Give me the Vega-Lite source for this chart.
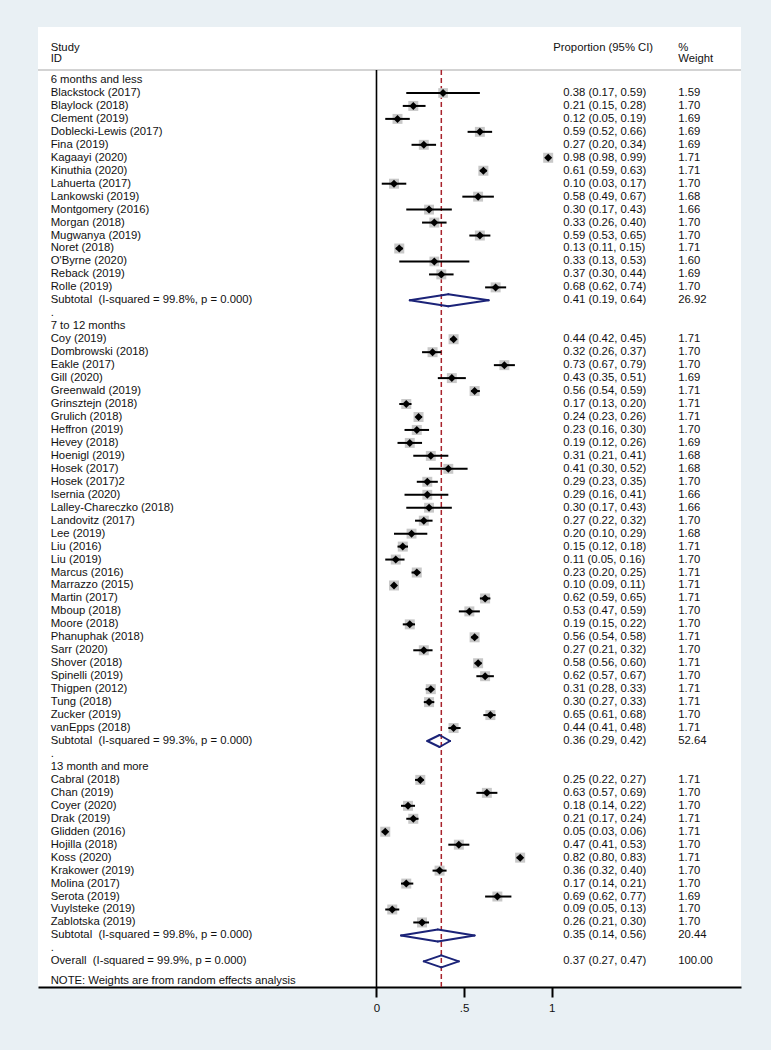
{
  "$schema": "https://vega.github.io/schema/vega-lite/v6.json",
  "width": 703,
  "height": 960,
  "autosize": {"type": "none"},
  "padding": {"left": 38, "top": 27, "right": 30, "bottom": 63},
  "background": "#e9f0f4",
  "view": {"fill": "white", "stroke": null},
  "config": {
    "font": "Liberation Sans",
    "text": {"font": "Liberation Sans", "fontSize": 11.3, "color": "#111111", "align": "left", "baseline": "middle"},
    "axisX": {
      "domainColor": "#000000", "domainWidth": 2, "tickColor": "#000000", "tickWidth": 2, "tickSize": 10,
      "labelFont": "Liberation Sans", "labelFontSize": 11.5, "labelColor": "#111111", "labelPadding": 5,
      "grid": false, "title": null
    }
  },
  "data": {
    "values": [
      {"r": 1, "k": "g", "label": "6 months and less"},
      {"r": 2, "k": "s", "label": "Blackstock (2017)", "est": 0.38, "lo": 0.17, "hi": 0.59, "w": 1.59, "ci": "0.38 (0.17, 0.59)"},
      {"r": 3, "k": "s", "label": "Blaylock (2018)", "est": 0.21, "lo": 0.15, "hi": 0.28, "w": 1.70, "ci": "0.21 (0.15, 0.28)"},
      {"r": 4, "k": "s", "label": "Clement (2019)", "est": 0.12, "lo": 0.05, "hi": 0.19, "w": 1.69, "ci": "0.12 (0.05, 0.19)"},
      {"r": 5, "k": "s", "label": "Doblecki-Lewis (2017)", "est": 0.59, "lo": 0.52, "hi": 0.66, "w": 1.69, "ci": "0.59 (0.52, 0.66)"},
      {"r": 6, "k": "s", "label": "Fina (2019)", "est": 0.27, "lo": 0.20, "hi": 0.34, "w": 1.69, "ci": "0.27 (0.20, 0.34)"},
      {"r": 7, "k": "s", "label": "Kagaayi (2020)", "est": 0.98, "lo": 0.98, "hi": 0.99, "w": 1.71, "ci": "0.98 (0.98, 0.99)"},
      {"r": 8, "k": "s", "label": "Kinuthia (2020)", "est": 0.61, "lo": 0.59, "hi": 0.63, "w": 1.71, "ci": "0.61 (0.59, 0.63)"},
      {"r": 9, "k": "s", "label": "Lahuerta (2017)", "est": 0.10, "lo": 0.03, "hi": 0.17, "w": 1.70, "ci": "0.10 (0.03, 0.17)"},
      {"r": 10, "k": "s", "label": "Lankowski (2019)", "est": 0.58, "lo": 0.49, "hi": 0.67, "w": 1.68, "ci": "0.58 (0.49, 0.67)"},
      {"r": 11, "k": "s", "label": "Montgomery (2016)", "est": 0.30, "lo": 0.17, "hi": 0.43, "w": 1.66, "ci": "0.30 (0.17, 0.43)"},
      {"r": 12, "k": "s", "label": "Morgan (2018)", "est": 0.33, "lo": 0.26, "hi": 0.40, "w": 1.70, "ci": "0.33 (0.26, 0.40)"},
      {"r": 13, "k": "s", "label": "Mugwanya (2019)", "est": 0.59, "lo": 0.53, "hi": 0.65, "w": 1.70, "ci": "0.59 (0.53, 0.65)"},
      {"r": 14, "k": "s", "label": "Noret (2018)", "est": 0.13, "lo": 0.11, "hi": 0.15, "w": 1.71, "ci": "0.13 (0.11, 0.15)"},
      {"r": 15, "k": "s", "label": "O'Byrne (2020)", "est": 0.33, "lo": 0.13, "hi": 0.53, "w": 1.60, "ci": "0.33 (0.13, 0.53)"},
      {"r": 16, "k": "s", "label": "Reback (2019)", "est": 0.37, "lo": 0.30, "hi": 0.44, "w": 1.69, "ci": "0.37 (0.30, 0.44)"},
      {"r": 17, "k": "s", "label": "Rolle (2019)", "est": 0.68, "lo": 0.62, "hi": 0.74, "w": 1.70, "ci": "0.68 (0.62, 0.74)"},
      {"r": 18, "k": "t", "label": "Subtotal \u00a0(I-squared = 99.8%, p = 0.000)", "est": 0.41, "lo": 0.19, "hi": 0.64, "w": 26.92, "ci": "0.41 (0.19, 0.64)"},
      {"r": 19, "k": "d", "label": "."},
      {"r": 20, "k": "g", "label": "7 to 12 months"},
      {"r": 21, "k": "s", "label": "Coy (2019)", "est": 0.44, "lo": 0.42, "hi": 0.45, "w": 1.71, "ci": "0.44 (0.42, 0.45)"},
      {"r": 22, "k": "s", "label": "Dombrowski (2018)", "est": 0.32, "lo": 0.26, "hi": 0.37, "w": 1.70, "ci": "0.32 (0.26, 0.37)"},
      {"r": 23, "k": "s", "label": "Eakle (2017)", "est": 0.73, "lo": 0.67, "hi": 0.79, "w": 1.70, "ci": "0.73 (0.67, 0.79)"},
      {"r": 24, "k": "s", "label": "Gill (2020)", "est": 0.43, "lo": 0.35, "hi": 0.51, "w": 1.69, "ci": "0.43 (0.35, 0.51)"},
      {"r": 25, "k": "s", "label": "Greenwald (2019)", "est": 0.56, "lo": 0.54, "hi": 0.59, "w": 1.71, "ci": "0.56 (0.54, 0.59)"},
      {"r": 26, "k": "s", "label": "Grinsztejn (2018)", "est": 0.17, "lo": 0.13, "hi": 0.20, "w": 1.71, "ci": "0.17 (0.13, 0.20)"},
      {"r": 27, "k": "s", "label": "Grulich (2018)", "est": 0.24, "lo": 0.23, "hi": 0.26, "w": 1.71, "ci": "0.24 (0.23, 0.26)"},
      {"r": 28, "k": "s", "label": "Heffron (2019)", "est": 0.23, "lo": 0.16, "hi": 0.30, "w": 1.70, "ci": "0.23 (0.16, 0.30)"},
      {"r": 29, "k": "s", "label": "Hevey (2018)", "est": 0.19, "lo": 0.12, "hi": 0.26, "w": 1.69, "ci": "0.19 (0.12, 0.26)"},
      {"r": 30, "k": "s", "label": "Hoenigl (2019)", "est": 0.31, "lo": 0.21, "hi": 0.41, "w": 1.68, "ci": "0.31 (0.21, 0.41)"},
      {"r": 31, "k": "s", "label": "Hosek (2017)", "est": 0.41, "lo": 0.30, "hi": 0.52, "w": 1.68, "ci": "0.41 (0.30, 0.52)"},
      {"r": 32, "k": "s", "label": "Hosek (2017)2", "est": 0.29, "lo": 0.23, "hi": 0.35, "w": 1.70, "ci": "0.29 (0.23, 0.35)"},
      {"r": 33, "k": "s", "label": "Isernia (2020)", "est": 0.29, "lo": 0.16, "hi": 0.41, "w": 1.66, "ci": "0.29 (0.16, 0.41)"},
      {"r": 34, "k": "s", "label": "Lalley-Chareczko (2018)", "est": 0.30, "lo": 0.17, "hi": 0.43, "w": 1.66, "ci": "0.30 (0.17, 0.43)"},
      {"r": 35, "k": "s", "label": "Landovitz (2017)", "est": 0.27, "lo": 0.22, "hi": 0.32, "w": 1.70, "ci": "0.27 (0.22, 0.32)"},
      {"r": 36, "k": "s", "label": "Lee (2019)", "est": 0.20, "lo": 0.10, "hi": 0.29, "w": 1.68, "ci": "0.20 (0.10, 0.29)"},
      {"r": 37, "k": "s", "label": "Liu (2016)", "est": 0.15, "lo": 0.12, "hi": 0.18, "w": 1.71, "ci": "0.15 (0.12, 0.18)"},
      {"r": 38, "k": "s", "label": "Liu (2019)", "est": 0.11, "lo": 0.05, "hi": 0.16, "w": 1.70, "ci": "0.11 (0.05, 0.16)"},
      {"r": 39, "k": "s", "label": "Marcus (2016)", "est": 0.23, "lo": 0.20, "hi": 0.25, "w": 1.71, "ci": "0.23 (0.20, 0.25)"},
      {"r": 40, "k": "s", "label": "Marrazzo (2015)", "est": 0.10, "lo": 0.09, "hi": 0.11, "w": 1.71, "ci": "0.10 (0.09, 0.11)"},
      {"r": 41, "k": "s", "label": "Martin (2017)", "est": 0.62, "lo": 0.59, "hi": 0.65, "w": 1.71, "ci": "0.62 (0.59, 0.65)"},
      {"r": 42, "k": "s", "label": "Mboup (2018)", "est": 0.53, "lo": 0.47, "hi": 0.59, "w": 1.70, "ci": "0.53 (0.47, 0.59)"},
      {"r": 43, "k": "s", "label": "Moore (2018)", "est": 0.19, "lo": 0.15, "hi": 0.22, "w": 1.70, "ci": "0.19 (0.15, 0.22)"},
      {"r": 44, "k": "s", "label": "Phanuphak (2018)", "est": 0.56, "lo": 0.54, "hi": 0.58, "w": 1.71, "ci": "0.56 (0.54, 0.58)"},
      {"r": 45, "k": "s", "label": "Sarr (2020)", "est": 0.27, "lo": 0.21, "hi": 0.32, "w": 1.70, "ci": "0.27 (0.21, 0.32)"},
      {"r": 46, "k": "s", "label": "Shover (2018)", "est": 0.58, "lo": 0.56, "hi": 0.60, "w": 1.71, "ci": "0.58 (0.56, 0.60)"},
      {"r": 47, "k": "s", "label": "Spinelli (2019)", "est": 0.62, "lo": 0.57, "hi": 0.67, "w": 1.70, "ci": "0.62 (0.57, 0.67)"},
      {"r": 48, "k": "s", "label": "Thigpen (2012)", "est": 0.31, "lo": 0.28, "hi": 0.33, "w": 1.71, "ci": "0.31 (0.28, 0.33)"},
      {"r": 49, "k": "s", "label": "Tung (2018)", "est": 0.30, "lo": 0.27, "hi": 0.33, "w": 1.71, "ci": "0.30 (0.27, 0.33)"},
      {"r": 50, "k": "s", "label": "Zucker (2019)", "est": 0.65, "lo": 0.61, "hi": 0.68, "w": 1.70, "ci": "0.65 (0.61, 0.68)"},
      {"r": 51, "k": "s", "label": "vanEpps (2018)", "est": 0.44, "lo": 0.41, "hi": 0.48, "w": 1.71, "ci": "0.44 (0.41, 0.48)"},
      {"r": 52, "k": "t", "label": "Subtotal \u00a0(I-squared = 99.3%, p = 0.000)", "est": 0.36, "lo": 0.29, "hi": 0.42, "w": 52.64, "ci": "0.36 (0.29, 0.42)"},
      {"r": 53, "k": "d", "label": "."},
      {"r": 54, "k": "g", "label": "13 month and more"},
      {"r": 55, "k": "s", "label": "Cabral (2018)", "est": 0.25, "lo": 0.22, "hi": 0.27, "w": 1.71, "ci": "0.25 (0.22, 0.27)"},
      {"r": 56, "k": "s", "label": "Chan (2019)", "est": 0.63, "lo": 0.57, "hi": 0.69, "w": 1.70, "ci": "0.63 (0.57, 0.69)"},
      {"r": 57, "k": "s", "label": "Coyer (2020)", "est": 0.18, "lo": 0.14, "hi": 0.22, "w": 1.70, "ci": "0.18 (0.14, 0.22)"},
      {"r": 58, "k": "s", "label": "Drak (2019)", "est": 0.21, "lo": 0.17, "hi": 0.24, "w": 1.71, "ci": "0.21 (0.17, 0.24)"},
      {"r": 59, "k": "s", "label": "Glidden (2016)", "est": 0.05, "lo": 0.03, "hi": 0.06, "w": 1.71, "ci": "0.05 (0.03, 0.06)"},
      {"r": 60, "k": "s", "label": "Hojilla (2018)", "est": 0.47, "lo": 0.41, "hi": 0.53, "w": 1.70, "ci": "0.47 (0.41, 0.53)"},
      {"r": 61, "k": "s", "label": "Koss (2020)", "est": 0.82, "lo": 0.80, "hi": 0.83, "w": 1.71, "ci": "0.82 (0.80, 0.83)"},
      {"r": 62, "k": "s", "label": "Krakower (2019)", "est": 0.36, "lo": 0.32, "hi": 0.40, "w": 1.70, "ci": "0.36 (0.32, 0.40)"},
      {"r": 63, "k": "s", "label": "Molina (2017)", "est": 0.17, "lo": 0.14, "hi": 0.21, "w": 1.70, "ci": "0.17 (0.14, 0.21)"},
      {"r": 64, "k": "s", "label": "Serota (2019)", "est": 0.69, "lo": 0.62, "hi": 0.77, "w": 1.69, "ci": "0.69 (0.62, 0.77)"},
      {"r": 65, "k": "s", "label": "Vuylsteke (2019)", "est": 0.09, "lo": 0.05, "hi": 0.13, "w": 1.70, "ci": "0.09 (0.05, 0.13)"},
      {"r": 66, "k": "s", "label": "Zablotska (2019)", "est": 0.26, "lo": 0.21, "hi": 0.30, "w": 1.70, "ci": "0.26 (0.21, 0.30)"},
      {"r": 67, "k": "t", "label": "Subtotal \u00a0(I-squared = 99.8%, p = 0.000)", "est": 0.35, "lo": 0.14, "hi": 0.56, "w": 20.44, "ci": "0.35 (0.14, 0.56)"},
      {"r": 68, "k": "d", "label": "."},
      {"r": 69, "k": "o", "label": "Overall \u00a0(I-squared = 99.9%, p = 0.000)", "est": 0.37, "lo": 0.27, "hi": 0.47, "w": 100.00, "ci": "0.37 (0.27, 0.47)"}
    ]
  },
  "encoding": {
    "y": {"field": "r", "type": "quantitative", "scale": {"domain": [-3.09, 70.98], "reverse": true, "nice": false, "zero": false}, "axis": null}
  },
  "layer": [
    {
      "transform": [{"filter": "datum.r == 1"}],
      "mark": {"type": "rule", "color": "#c4c4c4", "strokeWidth": 1.5},
      "encoding": {
        "x": {"datum": -1.932, "type": "quantitative", "scale": {"domain": [-1.932, 2.0805], "nice": false, "zero": false}, "axis": {"values": [0, 0.5, 1], "labelExpr": "datum.value == 0.5 ? '.5' : format(datum.value, 'd')", "title": null}},
        "x2": {"datum": 2.0805},
        "y": {"datum": 0.228, "type": "quantitative"}
      }
    },
    {
      "transform": [{"filter": "datum.r == 1"}],
      "mark": {"type": "rule", "color": "#000000", "strokeWidth": 1.6},
      "encoding": {
        "x": {"datum": 0, "type": "quantitative", "title": null},
        "y": {"datum": 0.228, "type": "quantitative"},
        "y2": {"datum": 70.98}
      }
    },
    {
      "transform": [{"filter": "datum.k == 'o'"}],
      "mark": {"type": "rule", "color": "#a8232d", "strokeWidth": 1.5, "strokeDash": [5, 3]},
      "encoding": {
        "x": {"field": "est", "type": "quantitative", "title": null},
        "y": {"datum": 0.228, "type": "quantitative"},
        "y2": {"datum": 70.98}
      }
    },
    {
      "transform": [{"filter": "datum.k == 's'"}],
      "mark": {"type": "point", "shape": "square", "filled": true, "color": "#c8c8c8", "opacity": 1},
      "encoding": {
        "x": {"field": "est", "type": "quantitative", "title": null},
        "size": {"field": "w", "type": "quantitative", "scale": {"domain": [0, 1.71], "range": [0, 100]}, "legend": null}
      }
    },
    {
      "transform": [{"filter": "datum.k == 's'"}],
      "mark": {"type": "rule", "color": "#000000", "strokeWidth": 2},
      "encoding": {
        "x": {"field": "lo", "type": "quantitative", "title": null},
        "x2": {"field": "hi"}
      }
    },
    {
      "transform": [{"filter": "datum.k == 's'"}],
      "mark": {"type": "point", "shape": "diamond", "filled": true, "color": "#000000", "opacity": 1, "size": 64},
      "encoding": {
        "x": {"field": "est", "type": "quantitative", "title": null}
      }
    },
    {
      "transform": [{"filter": "datum.k == 't' || datum.k == 'o'"}],
      "mark": {"type": "rule", "color": "#1b2378", "strokeWidth": 2, "strokeCap": "round", "y2Offset": -6},
      "encoding": {
        "x": {"field": "lo", "type": "quantitative", "title": null},
        "x2": {"field": "est"},
        "y2": {"field": "r"}
      }
    },
    {
      "transform": [{"filter": "datum.k == 't' || datum.k == 'o'"}],
      "mark": {"type": "rule", "color": "#1b2378", "strokeWidth": 2, "strokeCap": "round", "y2Offset": 6},
      "encoding": {
        "x": {"field": "lo", "type": "quantitative", "title": null},
        "x2": {"field": "est"},
        "y2": {"field": "r"}
      }
    },
    {
      "transform": [{"filter": "datum.k == 't' || datum.k == 'o'"}],
      "mark": {"type": "rule", "color": "#1b2378", "strokeWidth": 2, "strokeCap": "round", "yOffset": -6},
      "encoding": {
        "x": {"field": "est", "type": "quantitative", "title": null},
        "x2": {"field": "hi"},
        "y2": {"field": "r"}
      }
    },
    {
      "transform": [{"filter": "datum.k == 't' || datum.k == 'o'"}],
      "mark": {"type": "rule", "color": "#1b2378", "strokeWidth": 2, "strokeCap": "round", "yOffset": 6},
      "encoding": {
        "x": {"field": "est", "type": "quantitative", "title": null},
        "x2": {"field": "hi"},
        "y2": {"field": "r"}
      }
    },
    {
      "mark": {"type": "text"},
      "encoding": {
        "x": {"datum": -1.8596, "type": "quantitative"},
        "text": {"field": "label"}
      }
    },
    {
      "transform": [{"filter": "isValid(datum.ci)"}],
      "mark": {"type": "text"},
      "encoding": {
        "x": {"datum": 1.0662, "type": "quantitative"},
        "text": {"field": "ci"}
      }
    },
    {
      "transform": [{"filter": "isValid(datum.w)"}],
      "mark": {"type": "text"},
      "encoding": {
        "x": {"datum": 1.7226, "type": "quantitative"},
        "text": {"field": "w", "type": "quantitative", "format": ".2f"}
      }
    },
    {
      "transform": [{"filter": "datum.r == 1"}],
      "mark": {"type": "text", "text": ["Study", "ID"], "lineHeight": 11.6},
      "encoding": {
        "x": {"datum": -1.8596, "type": "quantitative"},
        "y": {"datum": -1.508, "type": "quantitative"}
      }
    },
    {
      "transform": [{"filter": "datum.r == 1"}],
      "mark": {"type": "text", "text": "Proportion (95% CI)"},
      "encoding": {
        "x": {"datum": 1.0091, "type": "quantitative"},
        "y": {"datum": -1.446, "type": "quantitative"}
      }
    },
    {
      "transform": [{"filter": "datum.r == 1"}],
      "mark": {"type": "text", "text": ["%", "Weight"], "lineHeight": 11.6},
      "encoding": {
        "x": {"datum": 1.7226, "type": "quantitative"},
        "y": {"datum": -1.508, "type": "quantitative"}
      }
    },
    {
      "transform": [{"filter": "datum.r == 1"}],
      "mark": {"type": "text", "text": "NOTE: Weights are from random effects analysis"},
      "encoding": {
        "x": {"datum": -1.8596, "type": "quantitative"},
        "y": {"datum": 70.5, "type": "quantitative"}
      }
    }
  ]
}
